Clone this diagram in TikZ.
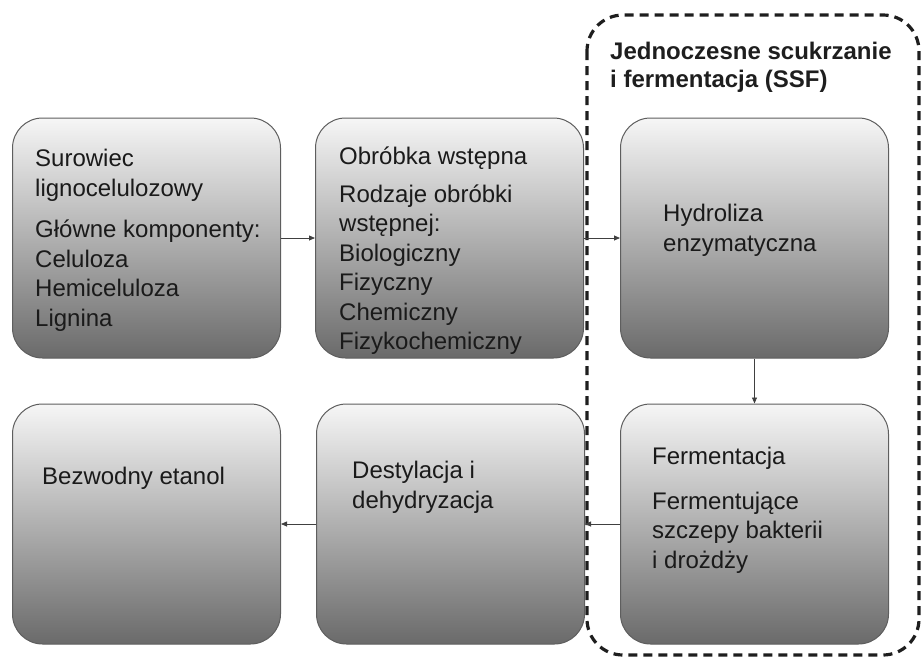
\documentclass[tikz,border=0pt]{standalone}
\usepackage{fontspec}
\setmainfont{Liberation Sans}
\usetikzlibrary{arrows.meta,positioning}
\definecolor{procEdge}{HTML}{5E5E5E}
\definecolor{procTop}{HTML}{F6F6F6}
\definecolor{procBottom}{HTML}{6A6A6A}
\definecolor{flowGray}{HTML}{404040}
\definecolor{ssfDark}{HTML}{1E1E1E}
\definecolor{txtDark}{HTML}{1A1A1A}

\begin{document}
\begin{tikzpicture}[x=1pt,y=1pt,
 proc/.style={rounded corners=30pt,draw=procEdge,line width=1pt,top color=procTop,bottom color=procBottom,minimum width=268pt,minimum height=240pt,inner sep=0pt},
 desc/.style={anchor=north west,inner sep=0pt,align=left,text=txtDark,font=\fontsize{24}{29.5}\selectfont,execute at begin node=\strut},
 ssftitle/.style={anchor=north west,inner sep=0pt,align=left,text=ssfDark,font=\bfseries\fontsize{24}{28}\selectfont,execute at begin node=\strut},
 flow/.style={-{Triangle[length=6pt,width=5pt]},line width=0.8pt,draw=flowGray},
 ssfframe/.style={dash pattern=on 9pt off 6pt,line width=3.2pt,draw=ssfDark,rounded corners=36pt}
]
\useasboundingbox (0,0) rectangle (922,-662);

% SSF region
\draw[ssfframe] (587,-15) rectangle (919,-655);
\node[ssftitle] (ssf) at (610,-42.4) {Jednoczesne scukrzanie\\i fermentacja (SSF)};

% upper row
\node[proc] (surowiec) at (146.5,-238) {};
\node[proc] (obrobka) at (449.5,-238) {};
\node[proc] (hydroliza) at (754.5,-238) {};
\node[desc] (surowiecTxt) at (35,-149.4) {Surowiec\\lignocelulozowy\\[12pt]Główne komponenty:\\Celuloza\\Hemiceluloza\\Lignina};
\node[desc] (obrobkaTxt) at (339,-146.4) {Obróbka wstępna\\[8.5pt]Rodzaje obróbki\\wstępnej:\\Biologiczny\\Fizyczny\\Chemiczny\\Fizykochemiczny};
\node[desc] (hydrolizaTxt) at (663,-204.4) {Hydroliza\\enzymatyczna};

% lower row
\node[proc] (fermentacja) at (754.5,-524) {};
\node[proc] (destylacja) at (450.5,-524) {};
\node[proc] (etanol) at (146.5,-524) {};
\node[desc] (fermentacjaTxt) at (652,-447.4) {Fermentacja\\[15pt]Fermentujące\\szczepy bakterii\\i drożdży};
\node[desc] (destylacjaTxt) at (352,-461.4) {Destylacja i\\dehydryzacja};
\node[desc] (etanolTxt) at (42,-464) {Bezwodny etanol};

% flow
\draw[flow] (surowiec) -- (obrobka);
\draw[flow] (obrobka) -- (hydroliza);
\draw[flow] (hydroliza) -- (fermentacja);
\draw[flow] (fermentacja) -- (destylacja);
\draw[flow] (destylacja) -- (etanol);
\end{tikzpicture}
\end{document}
